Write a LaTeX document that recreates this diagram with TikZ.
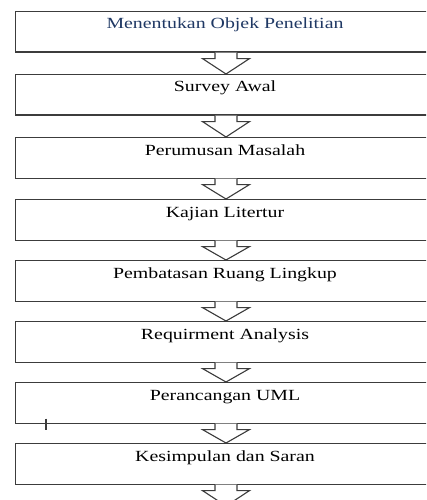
\documentclass[tikz,border=0pt]{standalone}
\usepackage{fontspec}
\setmainfont{Liberation Serif}
\usetikzlibrary{calc}
\definecolor{titleblue}{RGB}{31,56,100}
\definecolor{edge}{RGB}{60,60,60}
\newcommand{\widetext}[1]{\scalebox{1.28}[1]{#1}}
\tikzset{
  stage/.style={draw=edge, line width=1.1pt, rectangle, minimum width=425pt,
                minimum height=40.5pt, inner sep=0pt, anchor=north west},
  caption/.style={anchor=base, inner sep=0pt, font=\fontsize{15.5}{18}\selectfont},
  blockarrow/.style={draw=edge, fill=white, line width=1.1pt, line join=miter}
}
% hollow block arrow from the bottom of one stage to the top of the next
\newcommand{\flowarrow}[2]{%
  \filldraw[blockarrow]
    ($(#1.south -| ax)+(-11,0)$) -- ++(0,-6) -- ++(-12.5,0)
    -- (#2.north -| ax)
    -- ($(#1.south -| ax)+(23.5,-6)$) -- ++(-12.5,0) -- ++(0,6);}
\begin{document}
\begin{tikzpicture}[x=1pt,y=1pt]
  \useasboundingbox (0,0) rectangle (426,-500);
  \clip (0,0) rectangle (426,-500);
  \fill[white] (0,0) rectangle (426,-500);
  \coordinate (ax) at (226,0);

  \node[stage] (b1) at (15,-11)  {};
  \node[stage] (b2) at (15,-74)  {};
  \node[stage] (b3) at (15,-137) {};
  \node[stage] (b4) at (15,-199) {};
  \node[stage] (b5) at (15,-260) {};
  \node[stage] (b6) at (15,-321) {};
  \node[stage] (b7) at (15,-382) {};
  \node[stage] (b8) at (15,-443) {};
  \coordinate (end) at (15,-506);
  \coordinate (endtop) at ($(end)+(212.5,0)$);

  \node[caption, text=titleblue] (t1) at (225,-29)  {\widetext{Menentukan Objek Penelitian}};
  \node[caption] (t2) at (225,-92)  {\widetext{Survey Awal}};
  \node[caption] (t3) at (225,-155) {\widetext{Perumusan Masalah}};
  \node[caption] (t4) at (225,-217) {\widetext{Kajian Litertur}};
  \node[caption] (t5) at (225,-278) {\widetext{Pembatasan Ruang Lingkup}};
  \node[caption] (t6) at (225,-339) {\widetext{Requirment Analysis}};
  \node[caption] (t7) at (225,-400) {\widetext{Perancangan UML}};
  \node[caption] (t8) at (225,-461) {\widetext{Kesimpulan dan Saran}};

  \flowarrow{b1}{b2}
  \flowarrow{b2}{b3}
  \flowarrow{b3}{b4}
  \flowarrow{b4}{b5}
  \flowarrow{b5}{b6}
  \flowarrow{b6}{b7}
  \flowarrow{b7}{b8}
  \flowarrow{b8}{endtop}

  % small tick on the lower edge of the UML stage
  \draw[edge, line width=1.1pt] ([xshift=31pt,yshift=5pt]b7.south west) -- ++(0,-11);
\end{tikzpicture}
\end{document}
